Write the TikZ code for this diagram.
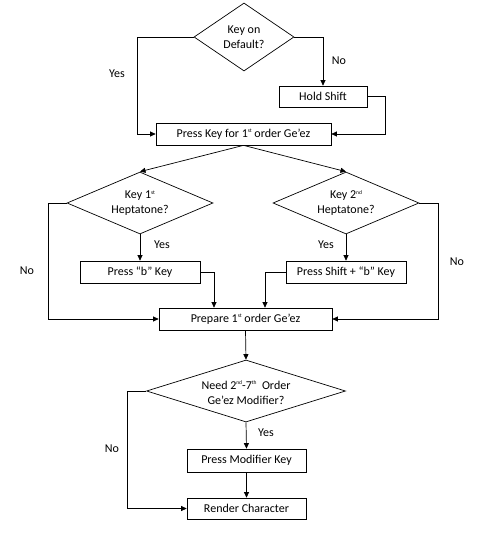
\documentclass[tikz,border=0pt]{standalone}
\usepackage{fontspec}
\setmainfont{Carlito}
\usetikzlibrary{shapes.geometric,arrows.meta}
\newcommand{\supx}[1]{\raisebox{0.75ex}{\fontsize{5.5}{6}\selectfont #1}}
\tikzset{
  base/.style={draw=black, line width=0.7pt, font=\fontsize{12}{15}\selectfont, align=center, inner sep=0pt},
  procbox/.style={base, rectangle},
  decision/.style={draw=black, line width=0.7pt, diamond, inner sep=0pt},
  dtext/.style={font=\fontsize{12}{15}\selectfont, align=center, inner sep=0pt},
  arr/.style={draw=black, line width=0.7pt, -{Triangle[length=5.5pt,width=5pt]}},
  lbl/.style={font=\fontsize{12}{15}\selectfont, inner sep=0pt}
}
\begin{document}
\begin{tikzpicture}[x=1pt,y=-1pt]
\useasboundingbox[fill=white] (0,0) rectangle (483,535);
% decisions (shape) and their texts
\node[decision, minimum width=100pt, minimum height=68pt] (d0) at (244,37) {};
\node[dtext] (t0) at (d0.center) {Key on\\Default?};
\node[decision, minimum width=146pt, minimum height=62pt] (d1) at (140,203) {};
\node[dtext] (t1) at (d1.center) {Key 1\supx{st}\\Heptatone?};
\node[decision, minimum width=146pt, minimum height=62pt] (d2) at (346,203) {};
\node[dtext] (t2) at (d2.center) {Key 2\supx{nd}\\Heptatone?};
\node[decision, minimum width=199pt, minimum height=62pt] (d3) at (246,391) {};
\node[dtext] (t3) at (246,392.5) {Need 2\supx{nd}-7\supx{th}\ \ Order\\Ge’ez Modifier?};
% process boxes
\node[procbox, minimum width=88pt, minimum height=21pt] (hold) at (323,96.5) {Hold Shift};
\node[procbox, minimum width=175pt, minimum height=22pt] (press) at (243.5,134) {Press Key for 1\supx{st} order Ge’ez};
\node[procbox, minimum width=120pt, minimum height=22pt] (b1) at (140,272) {Press “b” Key};
\node[procbox, minimum width=120pt, minimum height=22pt] (b2) at (346,272) {Press Shift + “b” Key};
\node[procbox, minimum width=173pt, minimum height=22pt] (prep) at (245.5,319) {Prepare 1\supx{st} order Ge’ez};
\node[procbox, minimum width=119pt, minimum height=23pt] (mod) at (246.5,460.5) {Press Modifier Key};
\node[procbox, minimum width=119pt, minimum height=21pt] (render) at (246.5,508.5) {Render Character};
% corner coordinates
\coordinate (c0l) at (137,37);
\coordinate (c0r) at (385,96.5);
\coordinate (c1l) at (48,203);
\coordinate (c2r) at (438,203);
\coordinate (c3l) at (127,391);
\coordinate (cb1) at (214,272);
\coordinate (cb2) at (265,272);
% labels
\node[lbl] (yes0) at (117,74) {Yes};
\node[lbl] (no0) at (339,61) {No};
\node[lbl] (yes1) at (162,245) {Yes};
\node[lbl] (yes2) at (326,245) {Yes};
\node[lbl] (no1) at (27,271) {No};
\node[lbl] (no2) at (457,262) {No};
\node[lbl] (yes3) at (266,433) {Yes};
\node[lbl] (no3) at (112,449) {No};
% connectors
\draw[arr] (d0.east) -| (hold.north);
\draw[arr] (d0.west) -- (c0l) |- (press.west);
\draw[arr] (hold.east) -- (c0r) |- (press.east);
\draw[arr] (press.south) -- (d1.north);
\draw[arr] (press.south) -- (d2.north);
\draw[arr] (d1.south) -- (b1.north);
\draw[arr] (d2.south) -- (b2.north);
\draw[arr] (d1.west) -- (c1l) |- (prep.west);
\draw[arr] (d2.east) -- (c2r) |- (prep.east);
\draw[arr] (b1.east) -- (cb1) -- (cb1 |- prep.north);
\draw[arr] (b2.west) -- (cb2) -- (cb2 |- prep.north);
\draw[arr] (prep.south) -- (d3.north);
\draw[arr] (d3.south) -- (mod.north);
\draw[arr] (mod.south) -- (render.north);
\draw[arr] (d3.west) -- (c3l) |- (render.west);
\end{tikzpicture}
\end{document}
